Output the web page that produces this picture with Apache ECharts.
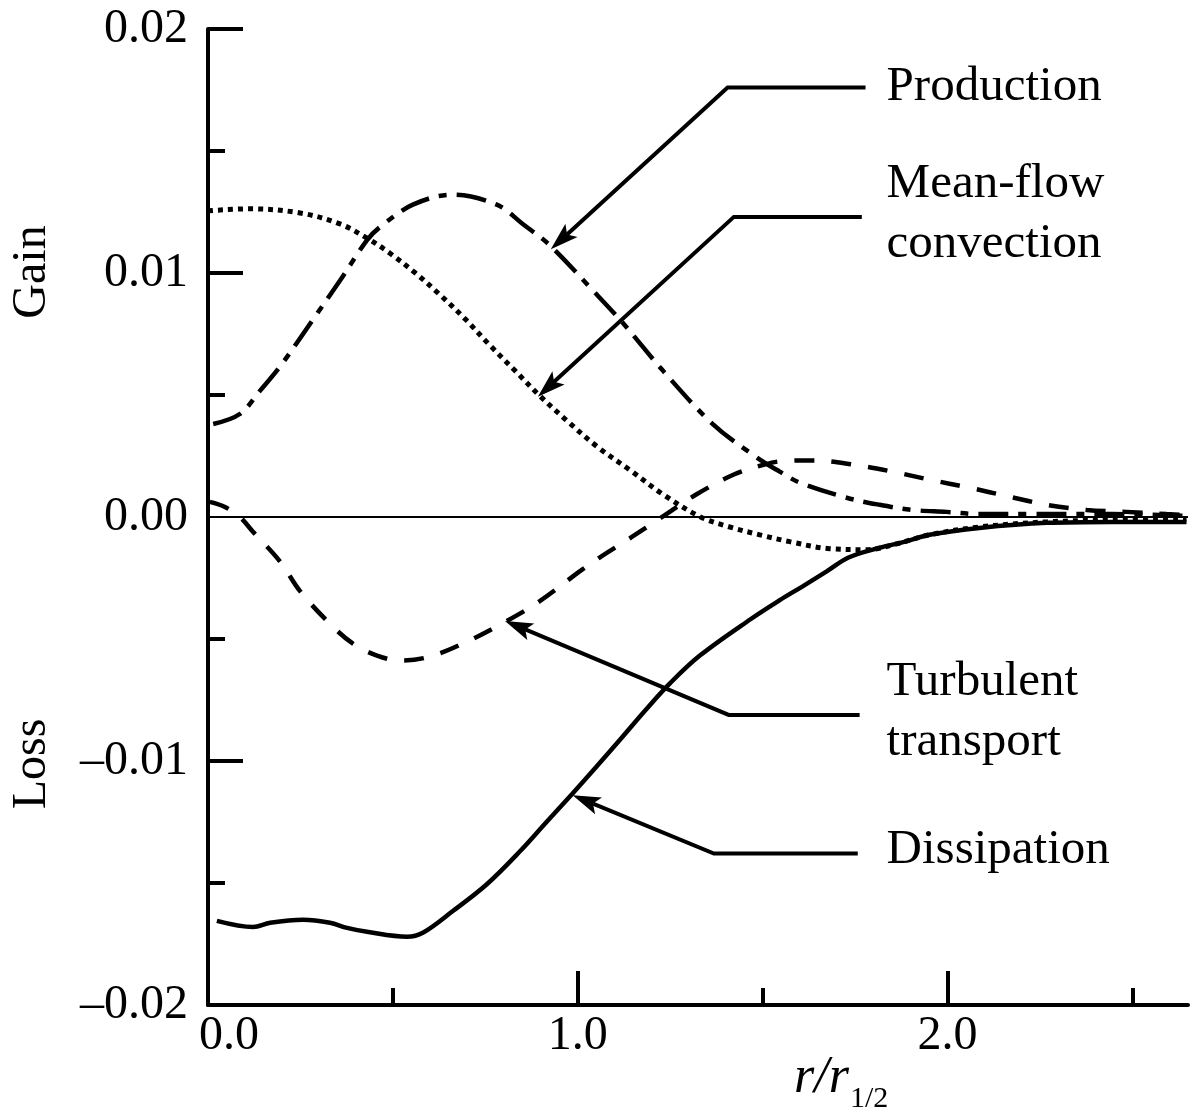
<!DOCTYPE html>
<html>
<head>
<meta charset="utf-8">
<script src="https://cdn.jsdelivr.net/npm/echarts@6/dist/echarts.min.js"></script>
<style>
html,body{margin:0;padding:0;background:#fff;}
#c{width:1197px;height:1113px;}
</style>
</head>
<body>
<div id="c"></div>
<script>
// ---- data ----
const production = [[0.014,0.00381],[0.086,0.00422],[0.141,0.00518],[0.195,0.00617],[0.281,0.00803],[0.357,0.00969],[0.430,0.01135],[0.465,0.01188],[0.554,0.01280],[0.662,0.01321],[0.781,0.01280],[0.851,0.01201],[0.924,0.01114],[1.041,0.00928],[1.122,0.00795],[1.230,0.00600],[1.365,0.00381],[1.484,0.00244],[1.546,0.00186],[1.600,0.00141],[1.727,0.00079],[1.816,0.00050],[1.905,0.00029],[1.997,0.00021],[2.086,0.00012],[2.222,0.00012],[2.446,0.00012],[2.646,0.00004]];
const meanFlowConvection = [[0.000,0.01255],[0.114,0.01263],[0.249,0.01246],[0.357,0.01201],[0.430,0.01143],[0.492,0.01081],[0.559,0.01002],[0.627,0.00911],[0.695,0.00812],[0.762,0.00704],[0.830,0.00600],[0.897,0.00497],[0.968,0.00398],[1.051,0.00290],[1.143,0.00190],[1.232,0.00091],[1.332,0.00000],[1.411,-0.00041],[1.492,-0.00073],[1.573,-0.00101],[1.681,-0.00130],[1.784,-0.00134],[1.862,-0.00110],[1.951,-0.00073],[2.086,-0.00041],[2.268,-0.00020],[2.446,-0.00012],[2.646,-0.00008]];
const turbulentTransport = [[0.005,0.00062],[0.046,0.00041],[0.086,0.00000],[0.122,-0.00061],[0.195,-0.00183],[0.249,-0.00304],[0.330,-0.00438],[0.392,-0.00519],[0.457,-0.00568],[0.519,-0.00588],[0.600,-0.00572],[0.700,-0.00511],[0.808,-0.00426],[0.897,-0.00345],[1.005,-0.00223],[1.059,-0.00166],[1.143,-0.00085],[1.224,-0.00004],[1.319,0.00091],[1.422,0.00174],[1.505,0.00215],[1.546,0.00228],[1.635,0.00232],[1.743,0.00215],[1.851,0.00186],[1.951,0.00153],[2.059,0.00120],[2.168,0.00083],[2.268,0.00050],[2.376,0.00029],[2.484,0.00021],[2.592,0.00012],[2.646,0.00008]];
const dissipation = [[0.024,-0.01655],[0.122,-0.01680],[0.168,-0.01663],[0.257,-0.01651],[0.330,-0.01663],[0.376,-0.01684],[0.430,-0.01700],[0.538,-0.01720],[0.581,-0.01704],[0.662,-0.01615],[0.754,-0.01505],[0.843,-0.01371],[0.916,-0.01249],[0.984,-0.01136],[1.049,-0.01026],[1.114,-0.00913],[1.181,-0.00795],[1.249,-0.00682],[1.330,-0.00568],[1.468,-0.00418],[1.546,-0.00341],[1.608,-0.00284],[1.673,-0.00223],[1.732,-0.00166],[1.816,-0.00126],[1.886,-0.00101],[1.951,-0.00073],[2.086,-0.00045],[2.268,-0.00024],[2.446,-0.00020],[2.646,-0.00020]];

const xTicks = [0, 1, 2];
const xTickLabels = ['0.0', '1.0', '2.0'];
const xMinorTicks = [0.5, 1.5, 2.5];
const yTicks = [-0.02, -0.01, 0, 0.01, 0.02];
const yTickLabels = ['\u20130.02', '\u20130.01', '0.00', '0.01', '0.02'];
const yMajorTickMarks = [-0.01, 0.01, 0.02];
const yMinorTicks = [-0.015, -0.005, 0.005, 0.015];

const annotationLabels = ['Production', 'Mean-flow\nconvection', 'Turbulent\ntransport', 'Dissipation'];
const annotationTextAt = [[1.835, 0.0176], [1.835, 0.01242], [1.835, -0.00799], [1.835, -0.01367]];
const annotationLeaders = [
  [[1.778, 0.0176], [1.405, 0.0176], [0.927, 0.01097]],
  [[1.768, 0.0123], [1.422, 0.0123], [0.892, 0.00493]],
  [[1.762, -0.00811], [1.408, -0.00811], [0.803, -0.00426]],
  [[1.757, -0.01379], [1.368, -0.01379], [0.986, -0.0114]]
];

// ---- chart ----
const FONT = '"Liberation Serif", "Times New Roman", serif';
const chart = echarts.init(document.getElementById('c'), null, {renderer: 'canvas'});

function yLabel(v) {
  const i = yTicks.findIndex(t => Math.abs(t - v) < 1e-9);
  return i >= 0 ? yTickLabels[i] : '';
}
function xLabel(v) {
  const i = xTicks.findIndex(t => Math.abs(t - v) < 1e-9);
  if (i < 0) return '';
  return v === 0 ? '{z|' + xTickLabels[i] + '}' : xTickLabels[i];
}

const lineBase = {type: 'line', showSymbol: false, symbol: 'none', smooth: 0.35, silent: true, animation: false, clip: true};

chart.setOption({
  backgroundColor: '#fff',
  animation: false,
  grid: {left: 208, right: 9, top: 29, bottom: 108, containLabel: false, outerBoundsMode: 'none'},
  xAxis: [
    {
      type: 'value', min: 0, max: 2.65, position: 'bottom',
      axisLine: {show: true, onZero: false, lineStyle: {color: '#000', width: 4}},
      axisTick: {show: true, inside: true, length: 34, lineStyle: {color: '#000', width: 4}, customValues: [1, 2]},
      axisLabel: {show: true, customValues: xTicks, formatter: xLabel, margin: 7, color: '#000',
        fontFamily: FONT, fontSize: 48, lineHeight: 48,
        rich: {z: {fontFamily: FONT, fontSize: 48, lineHeight: 48, color: '#000', padding: [0, 0, 0, 42]}}},
      splitLine: {show: false}
    },
    {
      type: 'value', min: 0, max: 2.65, position: 'bottom',
      axisLine: {show: false, onZero: false},
      axisTick: {show: true, inside: true, length: 17, lineStyle: {color: '#000', width: 4}, customValues: xMinorTicks},
      axisLabel: {show: false},
      splitLine: {show: false}
    }
  ],
  yAxis: [
    {
      type: 'value', min: -0.02, max: 0.02, interval: 0.01, position: 'left',
      axisLine: {show: true, onZero: false, lineStyle: {color: '#000', width: 4}},
      axisTick: {show: true, inside: true, length: 35, lineStyle: {color: '#000', width: 4}, customValues: yMajorTickMarks},
      axisLabel: {show: true, customValues: yTicks, formatter: yLabel, margin: 20, color: '#000', fontFamily: FONT, fontSize: 48},
      splitLine: {show: false}
    },
    {
      type: 'value', min: -0.02, max: 0.02, interval: 0.01, position: 'left',
      axisLine: {show: false, onZero: false},
      axisTick: {show: true, inside: true, length: 17, lineStyle: {color: '#000', width: 4}, customValues: yMinorTicks},
      axisLabel: {show: false},
      splitLine: {show: false}
    }
  ],
  series: [
    Object.assign({}, lineBase, {name: 'Dissipation', data: dissipation,
      lineStyle: {color: '#000', width: 4.5, type: 'solid'},
      markLine: {silent: true, symbol: 'none', label: {show: false}, animation: false,
        lineStyle: {color: '#000', width: 2, type: 'solid'}, data: [{yAxis: 0}]}}),
    Object.assign({}, lineBase, {name: 'Production', data: production,
      lineStyle: {color: '#000', width: 4.5, type: [30, 10, 8, 10]}}),
    Object.assign({}, lineBase, {name: 'Mean-flow convection', data: meanFlowConvection,
      lineStyle: {color: '#000', width: 5, type: [5, 5]}}),
    Object.assign({}, lineBase, {name: 'Turbulent transport', data: turbulentTransport,
      lineStyle: {color: '#000', width: 4.5, type: [20, 17]}})
  ]
});

// ---- annotations (leader lines, arrowheads and texts placed in data space) ----
function toPx(p) { return chart.convertToPixel({seriesIndex: 0}, p); }
const elements = [];
annotationLeaders.forEach(function (pts) {
  const pp = pts.map(toPx);
  const tip = pp[pp.length - 1];
  const prev = pp[pp.length - 2];
  let ux = tip[0] - prev[0], uy = tip[1] - prev[1];
  const len = Math.sqrt(ux * ux + uy * uy);
  ux /= len; uy /= len;
  const nx = -uy, ny = ux;
  const L = 28, W = 9, notch = 22;
  const bx = tip[0] - L * ux, by = tip[1] - L * uy;
  const mx = tip[0] - notch * ux, my = tip[1] - notch * uy;
  const linePts = pp.slice(0, pp.length - 1).concat([[mx, my]]);
  elements.push({type: 'polyline', silent: true, shape: {points: linePts},
    style: {stroke: '#000', lineWidth: 4, fill: null, lineJoin: 'miter'}});
  elements.push({type: 'polygon', silent: true,
    shape: {points: [tip, [bx + W * nx, by + W * ny], [mx, my], [bx - W * nx, by - W * ny]]},
    style: {fill: '#000', stroke: null}});
});
annotationLabels.forEach(function (t, i) {
  const p = toPx(annotationTextAt[i]);
  elements.push({type: 'text', silent: true, x: p[0], y: p[1],
    style: {text: t, fill: '#000', font: '49px ' + FONT, align: 'left', verticalAlign: 'middle', lineHeight: 60}});
});
// axis side words and x-axis title
elements.push({type: 'text', silent: true, x: 32, y: 272, rotation: Math.PI / 2,
  style: {text: 'Gain', fill: '#000', font: '48px ' + FONT, align: 'center', verticalAlign: 'middle'}});
elements.push({type: 'text', silent: true, x: 32, y: 764, rotation: Math.PI / 2,
  style: {text: 'Loss', fill: '#000', font: '48px ' + FONT, align: 'center', verticalAlign: 'middle'}});
elements.push({type: 'text', silent: true, x: 794, y: 1078,
  style: {text: 'r/r', fill: '#000', font: 'italic 52px ' + FONT, align: 'left', verticalAlign: 'middle'}});
elements.push({type: 'text', silent: true, x: 850, y: 1099,
  style: {text: '1/2', fill: '#000', font: '30px ' + FONT, align: 'left', verticalAlign: 'middle'}});

chart.setOption({graphic: elements});
</script>
</body>
</html>
